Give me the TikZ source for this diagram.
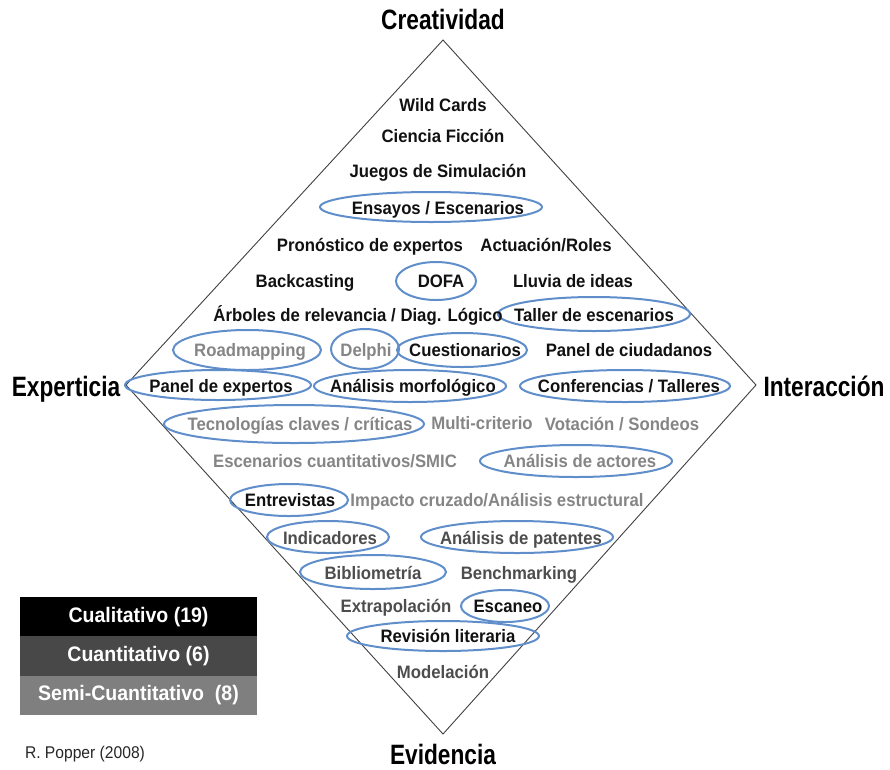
\documentclass[tikz,border=0pt]{standalone}
\usepackage{fontspec}
\setmainfont{Liberation Sans}[FakeStretch=0.93]
\newfontfamily\titlefont{Liberation Sans}[FakeStretch=0.81]
\newfontfamily\plainfont{Liberation Sans}[FakeStretch=0.92]
\definecolor{qual}{HTML}{111111}
\definecolor{quant}{HTML}{4D4D4D}
\definecolor{semi}{HTML}{858585}
\definecolor{ringblue}{RGB}{95,142,202}
\definecolor{rowquant}{HTML}{484848}
\definecolor{rowsemi}{HTML}{7F7F7F}
\tikzset{
  every node/.style={inner sep=0pt, outer sep=0pt},
  lbl/.style={font=\bfseries\fontsize{18}{18}\selectfont, anchor=base, yshift=-6.5pt},
  ql/.style={lbl, text=qual},
  qn/.style={lbl, text=quant},
  sm/.style={lbl, text=semi},
  ttl/.style={font=\titlefont\bfseries\fontsize{28}{28}\selectfont, text=black, anchor=base, yshift=-10pt},
  ring/.style={draw=ringblue, line width=2pt},
  frame/.style={draw=black!75, line width=0.9pt},
  legrow/.style={minimum width=237pt, minimum height=39.3pt, text=white,
    font=\bfseries\fontsize{21}{21}\selectfont},
}
\begin{document}
\begin{tikzpicture}[x=1pt,y=-1pt]
\useasboundingbox (0,0) rectangle (890,769);
% diamond
\coordinate (T) at (443,40);
\coordinate (R) at (756,385);
\coordinate (B) at (443,734);
\coordinate (L) at (126,385);
\draw[frame] (T) -- (R) -- (B) -- (L) -- cycle;
% titles
\node[ttl] (tC) at (443,19) {Creatividad};
\node[ttl] (tI) at (824,386) {Interacción};
\node[ttl] (tE) at (66,386) {Experticia};
\node[ttl] (tV) at (443,754) {Evidencia};
% ellipses
\draw[ring] (431,207) ellipse [x radius=111pt, y radius=15pt];
\draw[ring] (436,281) ellipse [x radius=40pt, y radius=19pt];
\draw[ring] (594,314) ellipse [x radius=96pt, y radius=17pt];
\draw[ring] (247,350) ellipse [x radius=74pt, y radius=20pt];
\draw[ring] (365,349) ellipse [x radius=34pt, y radius=20pt];
\draw[ring] (462,350) ellipse [x radius=65pt, y radius=17pt];
\draw[ring] (218,385) ellipse [x radius=93pt, y radius=15pt];
\draw[ring] (410,386) ellipse [x radius=96pt, y radius=16pt];
\draw[ring] (625,386) ellipse [x radius=105pt, y radius=16pt];
\draw[ring] (294,424) ellipse [x radius=130pt, y radius=19pt];
\draw[ring] (576,461) ellipse [x radius=96pt, y radius=16pt];
\draw[ring] (289,500) ellipse [x radius=59pt, y radius=16pt];
\draw[ring] (328,537) ellipse [x radius=61pt, y radius=16pt];
\draw[ring] (517,537) ellipse [x radius=96pt, y radius=16pt];
\draw[ring] (373,572) ellipse [x radius=73pt, y radius=17pt];
\draw[ring] (505,606) ellipse [x radius=44pt, y radius=16pt];
\draw[ring] (443,636) ellipse [x radius=96pt, y radius=15pt];
% labels
\node[ql] (n1) at (443,105) {Wild Cards};
\node[ql] (n2) at (443,136) {Ciencia Ficción};
\node[ql] (n3) at (438,171) {Juegos de Simulación};
\node[ql] (n4) at (438,208) {Ensayos / Escenarios};
\node[ql] (n5) at (370,245) {Pronóstico de expertos};
\node[ql] (n6) at (546,245) {Actuación/Roles};
\node[ql] (n7) at (305,281) {Backcasting};
\node[ql] (n8) at (441,281) {DOFA};
\node[ql] (n9) at (573,281) {Lluvia de ideas};
\node[ql] (n10) at (358,315) {Árboles de relevancia / Diag. Lógico};
\node[ql] (n11) at (594,315) {Taller de escenarios};
\node[sm] (n12) at (250,350) {Roadmapping};
\node[sm] (n13) at (366,350) {Delphi};
\node[ql] (n14) at (465,350) {Cuestionarios};
\node[ql] (n15) at (629,350) {Panel de ciudadanos};
\node[ql] (n16) at (221,386) {Panel de expertos};
\node[ql] (n17) at (413,386) {Análisis morfológico};
\node[ql] (n18) at (629,386) {Conferencias / Talleres};
\node[sm] (n19) at (300,424) {Tecnologías claves / críticas};
\node[sm] (n20) at (482,423) {Multi-criterio};
\node[sm] (n21) at (622,424) {Votación / Sondeos};
\node[sm] (n22) at (335,461) {Escenarios cuantitativos/SMIC};
\node[sm] (n23) at (580,461) {Análisis de actores};
\node[ql] (n24) at (290,500) {Entrevistas};
\node[sm] (n25) at (497,500) {Impacto cruzado/Análisis estructural};
\node[qn] (n26) at (330,538) {Indicadores};
\node[qn] (n27) at (521,538) {Análisis de patentes};
\node[qn] (n28) at (373,573) {Bibliometría};
\node[qn] (n29) at (519,573) {Benchmarking};
\node[qn] (n30) at (396,606) {Extrapolación};
\node[ql] (n31) at (508,606) {Escaneo};
\node[ql] (n32) at (448,636) {Revisión literaria};
\node[qn] (n33) at (443,672) {Modelación};
% legend
\node[legrow, fill=black] (g1) at (138.5,616.6) {Cualitativo (19)};
\node[legrow, fill=rowquant, anchor=north] (g2) at (g1.south) {Cuantitativo (6)};
\node[legrow, fill=rowsemi, anchor=north] (g3) at (g2.south) {Semi-Cuantitativo~~(8)};
\node[font=\plainfont\fontsize{17}{17}\selectfont, text=black!85, anchor=west] (src) at (25,754) {R. Popper (2008)};
\end{tikzpicture}
\end{document}
